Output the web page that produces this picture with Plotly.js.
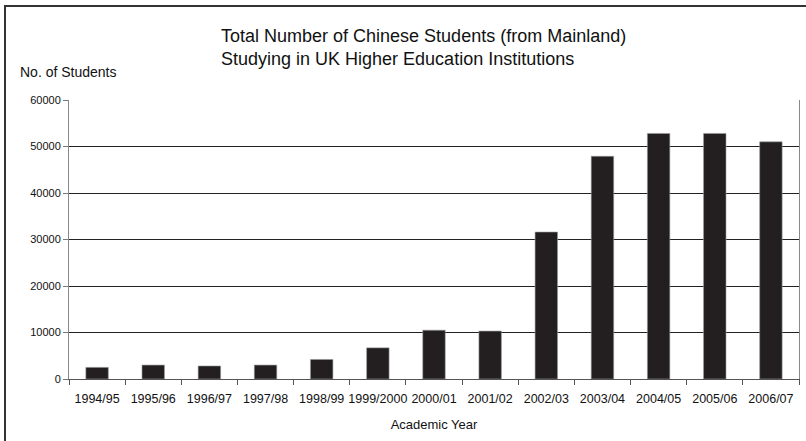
<!DOCTYPE html>
<html>
<head>
<meta charset="utf-8">
<script src="https://cdn.plot.ly/plotly-3.0.1.min.js"></script>
<style>
html,body{margin:0;padding:0;background:#fff;overflow:hidden;}
#wrap{position:relative;width:806px;height:441px;}
#chart{position:absolute;left:0;top:0;width:806px;height:441px;}
#frame{position:absolute;left:4px;top:5px;width:820px;height:460px;border-left:2px solid #333;border-top:2px solid #333;pointer-events:none;}
</style>
</head>
<body>
<div id="wrap"><div id="chart"></div><div id="frame"></div></div>
<script>
var years = ["1994/95","1995/96","1996/97","1997/98","1998/99","1999/2000","2000/01","2001/02","2002/03","2003/04","2004/05","2005/06","2006/07"];
var students = [2500, 3000, 2800, 3000, 4200, 6700, 10500, 10300, 31600, 47900, 52800, 52800, 51000];
var yTicks = [0, 10000, 20000, 30000, 40000, 50000, 60000];

var font = "Arial, 'Liberation Sans', Helvetica, sans-serif";

var trace = {
  type: "bar",
  x: years,
  y: students,
  marker: {color: "#231f20", line: {color: "#9a9a9a", width: 0.6}},
  hoverinfo: "none"
};

var layout = {
  width: 806, height: 441,
  margin: {l: 69, r: 7, t: 100, b: 62},
  paper_bgcolor: "#fff",
  plot_bgcolor: "#fff",
  bargap: 0.6,
  showlegend: false,
  font: {family: font, color: "#111"},
  title: {
    text: "Total Number of Chinese Students (from Mainland)<br>Studying in UK Higher Education Institutions",
    font: {family: font, size: 18, color: "#111"},
    xref: "container", x: 221/806, xanchor: "left",
    yref: "container", y: 1 - 42/441, yanchor: "top"
  },
  xaxis: {
    type: "category",
    tickson: "boundaries",
    tickangle: 0,
    ticks: "outside", ticklen: 5, tickcolor: "#555",
    ticklabelstandoff: 8,
    showline: true, linecolor: "#555", linewidth: 1,
    showgrid: false,
    tickfont: {family: font, size: 12.5, color: "#111"},
    title: {text: "Academic Year", font: {family: font, size: 13, color: "#111"}, standoff: 14},
    automargin: false
  },
  yaxis: {
    range: [0, 60000],
    tickvals: yTicks,
    ticktext: yTicks.map(String),
    ticks: "outside", ticklen: 5, tickcolor: "#777",
    showline: true, linecolor: "#888", linewidth: 1, mirror: true,
    showgrid: true, gridcolor: "#222", gridwidth: 1,
    zeroline: false,
    tickfont: {family: font, size: 11, color: "#111"},
    automargin: false
  },
  annotations: [{
    text: "No. of Students",
    xref: "paper", yref: "paper",
    x: (18 - 69)/730, y: (379 - 72)/279,
    xanchor: "left", yanchor: "middle",
    showarrow: false,
    font: {family: font, size: 14, color: "#111"}
  }]
};

Plotly.newPlot("chart", [trace], layout, {displayModeBar: false, staticPlot: true});
</script>
</body>
</html>
